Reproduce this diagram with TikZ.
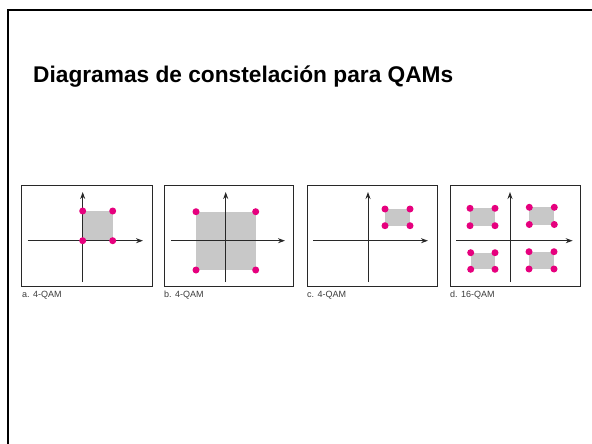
\documentclass[tikz,border=0pt]{standalone}
\usepackage{fontspec}
\setmainfont{Liberation Sans}
\usetikzlibrary{arrows.meta}
\definecolor{qgray}{RGB}{200,200,200}
\definecolor{qdot}{RGB}{230,0,126}
\definecolor{qaxis}{RGB}{40,40,40}
\definecolor{qlabel}{RGB}{60,60,60}
\tikzset{
  panel/.style={draw=qaxis, line width=0.9pt},
  axis/.style={draw=qaxis, line width=0.9pt, -{Stealth[length=7pt,width=5pt]}},
  qpt/.style={circle, fill=qdot, inner sep=0pt, minimum size=7pt},
  region/.style={fill=qgray},
  plabel/.style={anchor=base west, inner sep=0pt, font=\fontsize{9}{10}\selectfont, text=qlabel},
}
\begin{document}
\begin{tikzpicture}[x=1pt,y=-1pt]
\useasboundingbox (0,0) rectangle (592,444);
\fill[white] (0,0) rectangle (592,444);
% outer frame
\draw[line width=2.5pt, black] (8,444) -- (8,10) -- (592,10);
% title
\node[anchor=base west, inner sep=0pt, font=\bfseries\fontsize{22.7}{26}\selectfont] (title) at (33,83) {Diagramas de constelación para QAMs};

% ---- panel a
\draw[panel] (21,185) rectangle (152,286);
\fill[region] (82.7,211) rectangle (112.7,240.7);
\coordinate (av0) at (82.7,282); \coordinate (av1) at (82.7,192);
\coordinate (ah0) at (27.7,240.7); \coordinate (ah1) at (143,240.7);
\draw[axis] (av0) -- (av1);
\draw[axis] (ah0) -- (ah1);
\node[qpt] (a1) at (82.7,211) {};
\node[qpt] (a2) at (112.7,211) {};
\node[qpt] (a3) at (82.7,240.7) {};
\node[qpt] (a4) at (112.7,240.7) {};
\node[plabel] (la) at (22,297.5) {a. 4-QAM};

% ---- panel b
\draw[panel] (164,185) rectangle (293,286);
\fill[region] (196,211.7) rectangle (255.7,270);
\coordinate (bv0) at (225.7,282); \coordinate (bv1) at (225.7,192);
\coordinate (bh0) at (171,240.7); \coordinate (bh1) at (285,240.7);
\draw[axis] (bv0) -- (bv1);
\draw[axis] (bh0) -- (bh1);
\node[qpt] (b1) at (196,211.7) {};
\node[qpt] (b2) at (255.7,211.7) {};
\node[qpt] (b3) at (196,270) {};
\node[qpt] (b4) at (255.7,270) {};
\node[plabel] (lb) at (164,297.5) {b. 4-QAM};

% ---- panel c
\draw[panel] (307,185) rectangle (437,286);
\fill[region] (385,209) rectangle (410,225.7);
\coordinate (cv0) at (368,282); \coordinate (cv1) at (368,192);
\coordinate (ch0) at (313,240.7); \coordinate (ch1) at (428,240.7);
\draw[axis] (cv0) -- (cv1);
\draw[axis] (ch0) -- (ch1);
\node[qpt] (c1) at (385,209) {};
\node[qpt] (c2) at (410,209) {};
\node[qpt] (c3) at (385,225.7) {};
\node[qpt] (c4) at (410,225.7) {};
\node[plabel] (lc) at (307,297.5) {c. 4-QAM};

% ---- panel d
\draw[panel] (450,185) rectangle (580,286);
\fill[region] (470,208.3) rectangle (495,225.7);
\fill[region] (529.3,207.3) rectangle (554.3,224.5);
\fill[region] (470.7,252.7) rectangle (495,269.3);
\fill[region] (529,251.7) rectangle (554,269);
\coordinate (dv0) at (510,282); \coordinate (dv1) at (510,192);
\coordinate (dh0) at (456,240.7); \coordinate (dh1) at (572.7,240.7);
\draw[axis] (dv0) -- (dv1);
\draw[axis] (dh0) -- (dh1);
\node[qpt] (d1) at (470,208.3) {};
\node[qpt] (d2) at (495,208.3) {};
\node[qpt] (d3) at (470,225.7) {};
\node[qpt] (d4) at (495,225.7) {};
\node[qpt] (d5) at (529.3,207.3) {};
\node[qpt] (d6) at (554.3,207.3) {};
\node[qpt] (d7) at (529.3,224.5) {};
\node[qpt] (d8) at (554.3,224.5) {};
\node[qpt] (d9) at (470.7,252.7) {};
\node[qpt] (d10) at (495,252.7) {};
\node[qpt] (d11) at (470.7,269.3) {};
\node[qpt] (d12) at (495,269.3) {};
\node[qpt] (d13) at (529,251.7) {};
\node[qpt] (d14) at (554,251.7) {};
\node[qpt] (d15) at (529,269) {};
\node[qpt] (d16) at (554,269) {};
\node[plabel] (ld) at (450,297.5) {d. 16-QAM};
\end{tikzpicture}
\end{document}
